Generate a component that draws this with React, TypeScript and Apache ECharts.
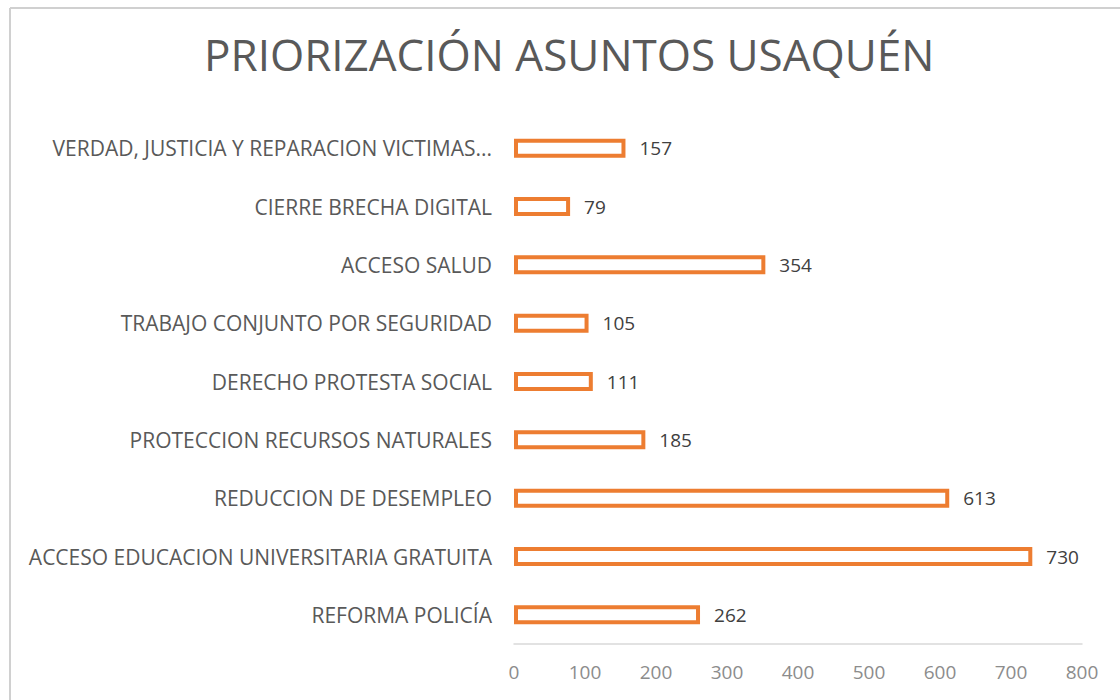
import React, { useEffect, useRef } from "react";
import * as echarts from "echarts";

const title = "PRIORIZACIÓN ASUNTOS USAQUÉN";
const categories = [
  "REFORMA POLICÍA",
  "ACCESO EDUCACION UNIVERSITARIA GRATUITA",
  "REDUCCION DE DESEMPLEO",
  "PROTECCION RECURSOS NATURALES",
  "DERECHO PROTESTA SOCIAL",
  "TRABAJO CONJUNTO POR SEGURIDAD",
  "ACCESO SALUD",
  "CIERRE BRECHA DIGITAL",
  "VERDAD, JUSTICIA Y REPARACION VICTIMAS...",
];
const values = [262, 730, 613, 185, 111, 105, 354, 79, 157];
const xTicks = [0, 800, 100];

export default function App() {
  const ref = useRef<HTMLDivElement>(null);
  useEffect(() => {
    const chart = echarts.init(ref.current!, null, { renderer: "svg" });
    chart.setOption({
      animation: false,
      backgroundColor: "#ffffff",
      graphic: [
        {
          type: "line",
          shape: { x1: 10, y1: 8, x2: 1120, y2: 8 },
          style: { stroke: "#d0d0d0", lineWidth: 2 },
          silent: true,
          z: 10,
        },
        {
          type: "line",
          shape: { x1: 10, y1: 8, x2: 10, y2: 700 },
          style: { stroke: "#d0d0d0", lineWidth: 2 },
          silent: true,
          z: 10,
        },
      ],
      title: {
        text: title,
        left: 199,
        top: 27,
        textStyle: {
          fontFamily: "Open Sans",
          fontWeight: "normal",
          fontSize: 44,
          color: "#595959",
        },
      },
      grid: { left: 514, right: 38, top: 119, bottom: 56, containLabel: false },
      xAxis: {
        type: "value",
        min: xTicks[0],
        max: xTicks[1],
        interval: xTicks[2],
        axisLine: { show: true, lineStyle: { color: "#d9d9d9", width: 1.5 } },
        axisTick: { show: false },
        splitLine: { show: false },
        axisLabel: {
          fontFamily: "Open Sans",
          fontSize: 19,
          color: "#8c8c8c",
          margin: 18,
        },
      },
      yAxis: {
        type: "category",
        data: categories,
        axisLine: { show: false },
        axisTick: { show: false },
        axisLabel: {
          fontFamily: "Open Sans",
          fontSize: 21,
          color: "#595959",
          margin: 22,
        },
      },
      series: [
        {
          type: "bar",
          data: values,
          barWidth: 19,
          itemStyle: {
            color: "#ffffff",
            borderColor: "#ED7D31",
            borderWidth: 4,
          },
          label: {
            show: true,
            position: "right",
            distance: 14,
            fontFamily: "Open Sans",
            fontSize: 19,
            color: "#404040",
          },
        },
      ],
    });
    return () => chart.dispose();
  }, []);
  return (
    <div
      ref={ref}
      style={{ position: "absolute", left: 0, top: 0, width: 1120, height: 700 }}
    />
  );
}
